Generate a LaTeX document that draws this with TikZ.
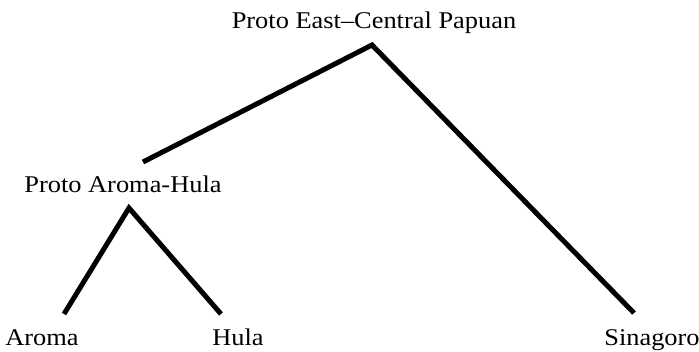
\documentclass[tikz,border=0pt]{standalone}
\usepackage{fontspec}
\setmainfont[FakeStretch=1.1]{Liberation Serif}
\begin{document}
\begin{tikzpicture}[x=1pt,y=-1pt,
  lbl/.style={inner sep=0pt,anchor=base,font=\fontsize{24}{26}\selectfont},
  branch/.style={line width=5pt}]
\useasboundingbox (0,0) rectangle (699,352);
\node[lbl] (root) at (374,29) {Proto East–Central Papuan};
\node[lbl] (pah) at (123,193) {Proto Aroma-Hula};
\node[lbl] (aroma) at (42,346) {Aroma};
\node[lbl] (hula) at (238,346) {Hula};
\node[lbl] (sin) at (652,346) {Sinagoro};
\coordinate (rtop) at (372,45);
\coordinate (rl) at (143,162);
\coordinate (rr) at (634,313);
\coordinate (ptop) at (129,208);
\coordinate (pl) at (64,314);
\coordinate (pr) at (221,314);
\draw[branch] (rl) -- (rtop) -- (rr);
\draw[branch] (pl) -- (ptop) -- (pr);
\end{tikzpicture}
\end{document}
